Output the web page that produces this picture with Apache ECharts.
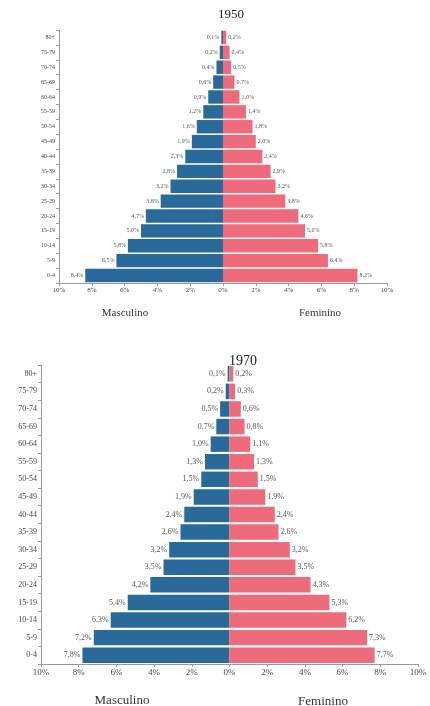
<!DOCTYPE html>
<html>
<head>
<meta charset="utf-8">
<script src="https://cdn.jsdelivr.net/npm/echarts@6/dist/echarts.min.js"></script>
<style>
html,body{margin:0;padding:0;background:#fff;}
#c{width:430px;height:706px;}
</style>
</head>
<body>
<div id="c"></div>
<script>
var categories = ['0-4','5-9','10-14','15-19','20-24','25-29','30-34','35-39','40-44','45-49','50-54','55-59','60-64','65-69','70-74','75-79','80+'];
var male1950 = [8.4, 6.5, 5.8, 5.0, 4.7, 3.8, 3.2, 2.8, 2.3, 1.9, 1.6, 1.2, 0.9, 0.6, 0.4, 0.2, 0.1];
var female1950 = [8.2, 6.4, 5.8, 5.0, 4.6, 3.8, 3.2, 2.9, 2.4, 2.0, 1.8, 1.4, 1.0, 0.7, 0.5, 0.4, 0.2];
var male1970 = [7.8, 7.2, 6.3, 5.4, 4.2, 3.5, 3.2, 2.6, 2.4, 1.9, 1.5, 1.3, 1.0, 0.7, 0.5, 0.2, 0.1];
var female1970 = [7.7, 7.3, 6.2, 5.3, 4.3, 3.5, 3.2, 2.6, 2.4, 1.9, 1.5, 1.3, 1.1, 0.8, 0.6, 0.3, 0.2];
var years = ['1950', '1970'];
var sexLabels = ['Masculino', 'Feminino'];

var FONT = 'Liberation Serif';
var BLUE = '#2a6a9b';
var PINK = '#ee6b7c';

function fmt(v) { return Math.abs(v).toFixed(1).replace('.', ',') + '%'; }

var chart = echarts.init(document.getElementById('c'));

function xAx(gi, fs) {
  return {
    gridIndex: gi, type: 'value', min: -10, max: 10, interval: 2,
    axisLine: { show: true, onZero: false, lineStyle: { color: '#9a9a9a', width: 1 } },
    axisTick: { show: true, length: 3, lineStyle: { color: '#9a9a9a' } },
    splitLine: { show: false },
    axisLabel: { fontFamily: FONT, fontSize: fs, color: '#444', margin: 4,
      formatter: function (v) { return Math.abs(v) + '%'; } }
  };
}
function yAx(gi, fs) {
  return {
    gridIndex: gi, type: 'category', data: categories,
    axisLine: { show: true, onZero: false, lineStyle: { color: '#9a9a9a', width: 1 } },
    axisTick: { show: true, length: 3, lineStyle: { color: '#9a9a9a' } },
    axisLabel: { fontFamily: FONT, fontSize: fs, color: '#444', margin: 4 }
  };
}
function bars(gi, data, color, isMale, fs, gap) {
  return {
    type: 'bar', xAxisIndex: gi, yAxisIndex: gi,
    data: data.map(function (v) { return isMale ? -v : v; }),
    barGap: '-100%', barCategoryGap: gap,
    itemStyle: { color: color },
    label: { show: true, position: isMale ? 'left' : 'right', distance: 2,
      fontFamily: FONT, fontSize: fs, color: '#555',
      formatter: function (p) { return fmt(p.value); } },
    silent: true, animation: false
  };
}

chart.setOption({
  animation: false,
  title: [
    { text: years[0], left: 226, top: 3, textAlign: 'center', textStyle: { fontFamily: FONT, fontSize: 13, fontWeight: 'normal', color: '#222' } },
    { text: years[1], left: 238, top: 349, textAlign: 'center', textStyle: { fontFamily: FONT, fontSize: 14, fontWeight: 'normal', color: '#222' } },
    { text: sexLabels[0], left: 120, top: 303, textAlign: 'center', textStyle: { fontFamily: FONT, fontSize: 11, fontWeight: 'normal', color: '#333' } },
    { text: sexLabels[1], left: 315, top: 303, textAlign: 'center', textStyle: { fontFamily: FONT, fontSize: 11, fontWeight: 'normal', color: '#333' } },
    { text: sexLabels[0], left: 117, top: 689, textAlign: 'center', textStyle: { fontFamily: FONT, fontSize: 13, fontWeight: 'normal', color: '#333' } },
    { text: sexLabels[1], left: 318, top: 690, textAlign: 'center', textStyle: { fontFamily: FONT, fontSize: 13, fontWeight: 'normal', color: '#333' } }
  ],
  grid: [
    { left: 59, right: 43, top: 30, height: 253 },
    { left: 41, right: 12, top: 365, height: 299 }
  ],
  xAxis: [xAx(0, 7), xAx(1, 9)],
  yAxis: [yAx(0, 6), yAx(1, 8)],
  series: [
    bars(0, male1950, BLUE, true, 6, '10%'),
    bars(0, female1950, PINK, false, 6, '10%'),
    bars(1, male1970, BLUE, true, 8, '12%'),
    bars(1, female1970, PINK, false, 8, '12%')
  ]
});
</script>
</body>
</html>
